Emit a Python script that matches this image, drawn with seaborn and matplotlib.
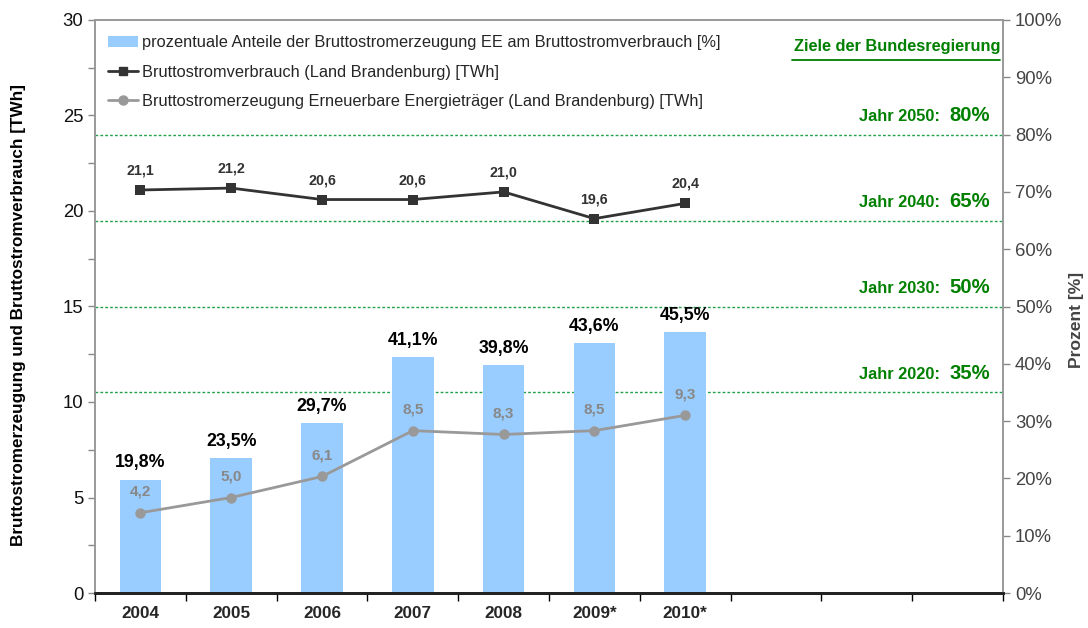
import numpy as np
import matplotlib
matplotlib.use("Agg")
import matplotlib.pyplot as plt
import seaborn as sns
from matplotlib.lines import Line2D
from matplotlib.patches import Patch
from matplotlib.ticker import MultipleLocator, FuncFormatter

sns.set_style("white")
plt.rcParams['font.family'] = ['Liberation Sans', 'DejaVu Sans']

years = ["2004", "2005", "2006", "2007", "2008", "2009*", "2010*"]
n_slots = 10
share_pct = [19.8, 23.5, 29.7, 41.1, 39.8, 43.6, 45.5]
consumption = [21.1, 21.2, 20.6, 20.6, 21.0, 19.6, 20.4]
renewables = [4.2, 5.0, 6.1, 8.5, 8.3, 8.5, 9.3]
target_years = ["2050", "2040", "2030", "2020"]
target_pct = [80, 65, 50, 35]

lbl_bar = "prozentuale Anteile der Bruttostromerzeugung EE am Bruttostromverbrauch [%]"
lbl_cons = "Bruttostromverbrauch (Land Brandenburg) [TWh]"
lbl_ren = "Bruttostromerzeugung Erneuerbare Energieträger (Land Brandenburg) [TWh]"

bar_color = "#99ccff"
dark = "#333333"
grey = "#999999"
green = "#008000"

fig = plt.figure(figsize=(10.88, 6.28), dpi=100)
ax = fig.add_axes([95/1088, 1-593/628, 908/1088, 573/628])

sns.barplot(x=years, y=share_pct, ax=ax, color=bar_color, width=0.46,
            saturation=1, edgecolor='none', zorder=2)
ax.set_xlim(-0.5, n_slots - 0.5)
ax.set_ylim(0, 100)

ax2 = ax.twinx()
pos = np.arange(len(years))
sns.lineplot(x=pos, y=consumption, ax=ax2, color=dark, marker='s', markersize=7,
             linewidth=2, markeredgewidth=0, zorder=3)
sns.lineplot(x=pos, y=renewables, ax=ax2, color=grey, marker='o', markersize=7.5,
             linewidth=2, markeredgewidth=0, zorder=3)
ax2.set_ylim(0, 30)
ax2.set_xlim(-0.5, n_slots - 0.5)

# axis sides
ax.yaxis.tick_right()
ax.yaxis.set_label_position('right')
ax2.yaxis.tick_left()
ax2.yaxis.set_label_position('left')

# target lines
for ty, tp in zip(target_years, target_pct):
    ax.axhline(tp, color="#22a04a", linestyle=(0, (2, 1.5)), linewidth=1, zorder=1)
    ax.text(8.81, tp + 2.4, f"Jahr {ty}:", color=green, fontsize=11.8,
            fontweight='bold', ha='right', va='baseline')
    ax.text(8.91, tp + 2.4, f"{tp}%", color=green, fontsize=14.6,
            fontweight='bold', ha='left', va='baseline')
ax.text(9.47, 95.3, "Ziele der Bundesregierung", color=green, fontsize=11.8,
        fontweight='bold', ha='right', va='center')
ax.plot([7.18, 9.47], [93.1, 93.1], color=green, linewidth=1.3, zorder=4)

# x axis
ax.set_xticks(np.arange(-0.5, n_slots, 1.0))
ax.set_xticklabels([])
ax.set_xticks(pos, minor=True)
ax.set_xticklabels(years, minor=True, fontweight='bold', fontsize=12.3)
ax.tick_params(axis='x', which='major', direction='out', length=6, width=1,
               color='black', bottom=True)
ax.tick_params(axis='x', which='minor', length=0, pad=9)
ax.set_xlabel("")

# right axis (percent)
ax.set_yticks(np.arange(0, 101, 10))
ax.yaxis.set_major_formatter(FuncFormatter(lambda v, p: f"{int(v)}%"))
ax.tick_params(axis='y', which='major', direction='out', length=5, width=1,
               color='#888888', labelsize=13.3, labelcolor='#444444', right=True, left=False)
ax.set_ylabel("Prozent [%]", fontsize=12.6, fontweight='bold', color='#444444')
ax.yaxis.set_label_coords(1.073, 0.476)

# left axis (TWh)
ax2.set_yticks(np.arange(0, 31, 5))
ax2.yaxis.set_minor_locator(MultipleLocator(2.5))
ax2.tick_params(axis='y', which='both', direction='out', length=5, width=1,
                color='#888888', labelsize=13.3, labelcolor='#111111', left=True, right=False)
ax2.set_ylabel("Bruttostromerzeugung und Bruttostromverbrauch [TWh]", fontsize=12.3,
               fontweight='bold', color='black')
ax2.yaxis.set_label_coords(-0.076, 0.485)
ax2.set_xlabel("")

for a in (ax, ax2):
    for s in ('left', 'right', 'top'):
        a.spines[s].set_color('#999999')
        a.spines[s].set_linewidth(1.2)
    a.spines['bottom'].set_color('#222222')
    a.spines['bottom'].set_linewidth(2)

# value labels
for x, v in zip(pos, share_pct):
    ax.annotate(f"{v:.1f}%".replace('.', ','), (x, v), xytext=(0, 12),
                textcoords='offset points', ha='center', va='center',
                fontsize=12.8, fontweight='bold', color='black')
for x, v in zip(pos, consumption):
    ax2.annotate(f"{v:.1f}".replace('.', ','), (x, v), xytext=(0, 14),
                 textcoords='offset points', ha='center', va='center',
                 fontsize=10.3, fontweight='bold', color=dark)
for x, v in zip(pos, renewables):
    ax2.annotate(f"{v:.1f}".replace('.', ','), (x, v), xytext=(0, 15),
                 textcoords='offset points', ha='center', va='center',
                 fontsize=11, fontweight='bold', color='#888888')

handles = [Patch(facecolor=bar_color, edgecolor='none'),
           Line2D([], [], color=dark, marker='s', markersize=6, linewidth=2),
           Line2D([], [], color=grey, marker='o', markersize=6.5, linewidth=2)]
ax2.legend(handles, [lbl_bar, lbl_cons, lbl_ren], loc='upper left',
           bbox_to_anchor=(0.0143, 0.973), frameon=False, fontsize=11.8,
           handlelength=1.83, handletextpad=0.25, labelspacing=0.87, borderaxespad=0,
           borderpad=0)

fig.savefig("out.png", dpi=100)
